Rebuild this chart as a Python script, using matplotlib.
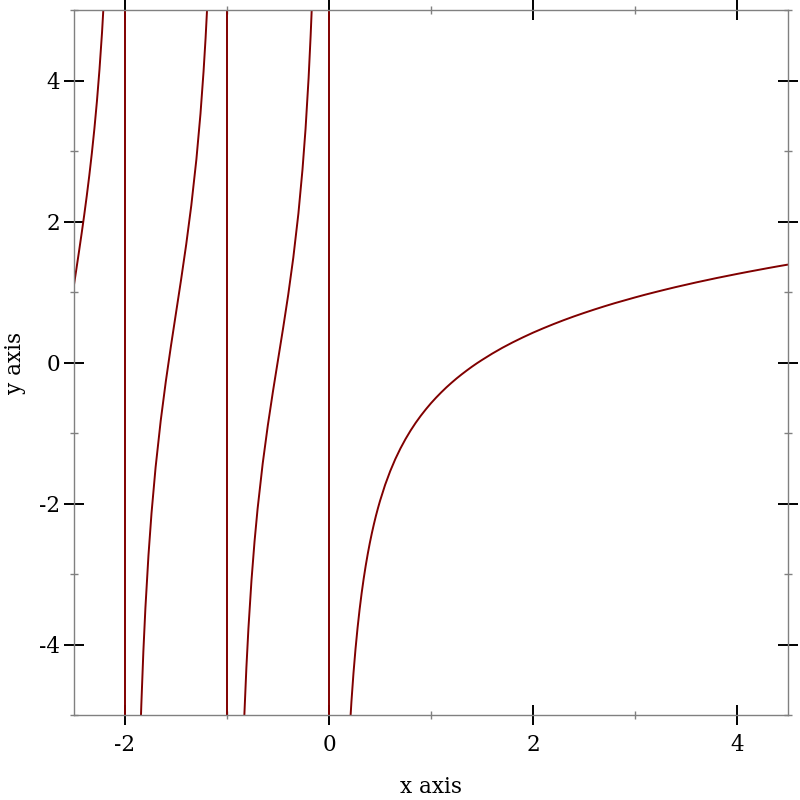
import matplotlib
matplotlib.use("Agg")
import matplotlib.pyplot as plt
from matplotlib.ticker import MultipleLocator

# digamma-like curve, branch by branch
b1_x = [-2.5, -2.475, -2.45, -2.425, -2.4, -2.375, -2.35, -2.325, -2.3, -2.275, -2.25,
        -2.225, -2.2, -2.19]
b1_y = [1.103, 1.342, 1.584, 1.832, 2.090, 2.362, 2.653, 2.969, 3.317, 3.709, 4.159,
        4.686, 5.323, 5.618]
b2_x = [-1.86, -1.85, -1.84, -1.82, -1.8, -1.77, -1.74, -1.7, -1.65, -1.6, -1.55, -1.5,
        -1.45, -1.4, -1.35, -1.3, -1.26, -1.23, -1.21, -1.19, -1.18]
b2_y = [-5.810, -5.304, -4.857, -4.101, -3.483, -2.736, -2.136, -1.486, -0.827, -0.270,
        0.230, 0.703, 1.176, 1.674, 2.228, 2.883, 3.528, 4.125, 4.600, 5.161, 5.483]
b3_x = [-0.85, -0.84, -0.83, -0.81, -0.79, -0.76, -0.73, -0.7, -0.65, -0.6, -0.55, -0.5,
        -0.45, -0.4, -0.35, -0.3, -0.26, -0.23, -0.2, -0.18, -0.17, -0.165]
b3_y = [-5.845, -5.400, -5.005, -4.330, -3.773, -3.090, -2.538, -2.074, -1.433, -0.895,
        -0.415, 0.036, 0.486, 0.959, 1.487, 2.113, 2.735, 3.312, 4.035, 4.636, 4.984, 5.17]
b4_x = [0.2, 0.22, 0.24, 0.26, 0.28, 0.3, 0.32, 0.34, 0.36, 0.38, 0.4, 0.42, 0.44, 0.46,
        0.48, 0.5, 0.55, 0.6, 0.65, 0.7, 0.75, 0.8, 0.85, 0.9, 0.95, 1.0, 1.05, 1.1, 1.15,
        1.2, 1.25, 1.3, 1.35, 1.4, 1.45, 1.5, 1.6, 1.7, 1.8, 1.9, 2.0, 2.1, 2.2, 2.3, 2.4,
        2.5, 2.6, 2.7, 2.8, 2.9, 3.0, 3.1, 3.2, 3.3, 3.4, 3.5, 3.6, 3.7, 3.8, 3.9, 4.0,
        4.1, 4.2, 4.3, 4.4, 4.5]
b4_y = [-5.289, -4.809, -4.406, -4.062, -3.764, -3.503, -3.272, -3.066, -2.881, -2.714,
        -2.561, -2.422, -2.294, -2.175, -2.066, -1.964, -1.736, -1.541, -1.370, -1.220,
        -1.086, -0.965, -0.855, -0.755, -0.663, -0.577, -0.498, -0.424, -0.354, -0.289,
        -0.227, -0.169, -0.114, -0.061, -0.011, 0.036, 0.126, 0.209, 0.285, 0.356, 0.423,
        0.485, 0.544, 0.600, 0.653, 0.703, 0.751, 0.797, 0.841, 0.882, 0.923, 0.962,
        0.999, 1.035, 1.070, 1.103, 1.136, 1.167, 1.198, 1.227, 1.256, 1.284, 1.311,
        1.338, 1.364, 1.389]
pole_x = [-2, -1, 0]

x_range = (-2.5, 4.5)
y_range = (-5, 5)
x_major = [-2, 0, 2, 4]
y_major = [-4, -2, 0, 2, 4]

plt.rcParams['font.family'] = ['DejaVu Serif']

fig = plt.figure(figsize=(8, 8), dpi=100)
ax = fig.add_axes([74/800, 1 - 715/800, (788 - 74)/800, (715 - 10)/800])

col = '#800000'
for xs, ys in [(b1_x, b1_y), (b2_x, b2_y), (b3_x, b3_y), (b4_x, b4_y)]:
    ax.plot(xs, ys, color=col, lw=1.4, solid_capstyle='butt', solid_joinstyle='round')
for px in pole_x:
    ax.plot([px, px], [y_range[0] - 1, y_range[1] + 1], color=col, lw=1.4)

ax.set_xlim(*x_range)
ax.set_ylim(*y_range)
ax.set_xticks(x_major)
ax.set_yticks(y_major)
ax.set_xticklabels([str(v) for v in x_major])
ax.set_yticklabels([str(v) for v in y_major])
ax.xaxis.set_minor_locator(MultipleLocator(1))
ax.yaxis.set_minor_locator(MultipleLocator(1))

for s in ax.spines.values():
    s.set_color('#808080')
    s.set_linewidth(1.0)

ax.tick_params(which='major', direction='inout', length=14, width=1.4, color='black',
               top=True, right=True, labelsize=15.5)
ax.tick_params(axis='x', which='major', pad=7)
ax.tick_params(axis='y', which='major', pad=3)
ax.tick_params(which='minor', direction='inout', length=6, width=1.0, color='#808080',
               top=True, right=True)

ax.set_xlabel('x axis', fontsize=15.5, labelpad=14)
ax.set_ylabel('y axis', fontsize=15.5, labelpad=9)

fig.savefig('out.png', dpi=100)
